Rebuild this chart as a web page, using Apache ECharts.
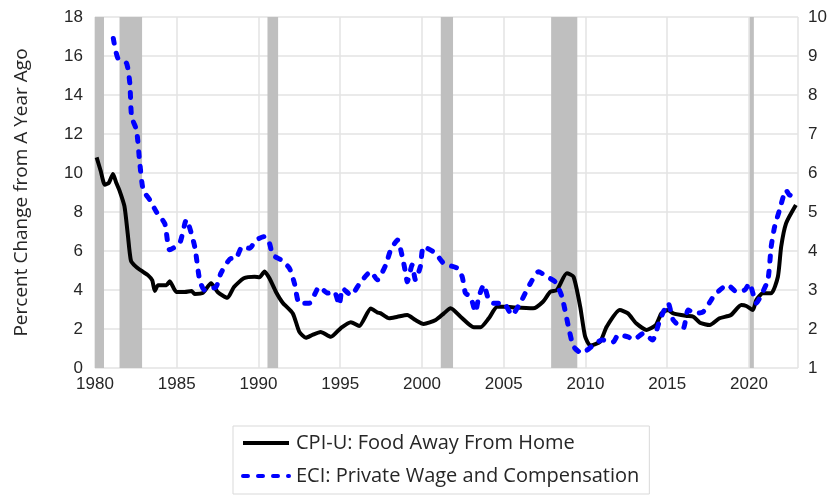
<!DOCTYPE html>
<html>
<head>
<meta charset="utf-8">
<script src="https://cdn.jsdelivr.net/npm/echarts@6/dist/echarts.min.js"></script>
<style>
  html, body { margin: 0; padding: 0; background: #fff; }
  #main { width: 832px; height: 498px; }
</style>
</head>
<body>
<div id="main"></div>
<script>
// CPI-U food away from home, % change from a year ago (left axis)
var cpiDates = [1980.1, 1980.35, 1980.6, 1980.85, 1981.1, 1981.3, 1981.5, 1981.8, 1982.0, 1982.2,
  1982.5, 1982.9, 1983.25, 1983.5, 1983.66, 1983.86, 1984.37, 1984.57, 1984.98, 1985.5,
  1985.9, 1986.1, 1986.6, 1987.1, 1987.5, 1988.1, 1988.5, 1989.1, 1989.76, 1990.06,
  1990.37, 1990.67, 1991.07, 1991.48, 1992.1, 1992.5, 1992.9, 1993.3, 1993.8, 1994.43,
  1995.04, 1995.65, 1996.16, 1996.87, 1997.27, 1997.48, 1997.99, 1998.5, 1999.1, 1999.6,
  2000.1, 2000.84, 2001.34, 2001.75, 2002.36, 2003.17, 2003.58, 2004.09, 2004.6, 2005.2,
  2005.7, 2006.8, 2007.4, 2007.85, 2008.25, 2008.86, 2009.27, 2009.68, 2009.98, 2010.3,
  2010.9, 2011.3, 2012.1, 2012.6, 2013.1, 2013.74, 2014.3, 2014.65, 2015.06, 2015.37,
  2016.18, 2016.6, 2017.0, 2017.6, 2018.2, 2018.9, 2019.53, 2019.84, 2020.24, 2020.45,
  2020.85, 2021.36, 2021.77, 2021.97, 2022.27, 2022.87];
var cpiValues = [10.8, 10.1, 9.4, 9.5, 9.95, 9.5, 9.1, 8.3, 6.9, 5.5,
  5.2, 4.95, 4.75, 4.5, 3.95, 4.25, 4.25, 4.45, 3.9, 3.9,
  3.95, 3.8, 3.85, 4.35, 3.9, 3.6, 4.15, 4.6, 4.68, 4.65,
  4.95, 4.6, 3.9, 3.35, 2.8, 1.85, 1.55, 1.7, 1.85, 1.6,
  2.05, 2.35, 2.15, 3.05, 2.85, 2.8, 2.55, 2.63, 2.72, 2.46,
  2.26, 2.46, 2.8, 3.06, 2.63, 2.09, 2.09, 2.55, 3.14, 3.14,
  3.1, 3.06, 3.4, 3.91, 4.0, 4.86, 4.68, 3.14, 1.61, 1.15,
  1.35, 2.12, 2.97, 2.8, 2.29, 1.95, 2.2, 2.8, 2.97, 2.8,
  2.67, 2.63, 2.32, 2.2, 2.55, 2.72, 3.23, 3.18, 2.97, 3.49,
  3.83, 3.83, 4.68, 6.22, 7.42, 8.36];

// ECI private wages and compensation, % change from a year ago (right axis)
var eciDates = [1981.12, 1981.4, 1981.93, 1982.13, 1982.24, 1982.54, 1982.74, 1982.95, 1983.35, 1983.76,
  1984.27, 1984.57, 1985.18, 1985.59, 1986.1, 1986.4, 1986.7, 1987.4, 1987.7, 1988.33,
  1988.6, 1989.0, 1989.45, 1989.86, 1990.37, 1990.67, 1990.87, 1991.38, 1991.89, 1992.2,
  1992.5, 1993.1, 1993.72, 1994.23, 1994.63, 1994.94, 1995.14, 1995.65, 1996.26, 1996.87,
  1997.27, 1997.78, 1998.09, 1998.5, 1998.8, 1999.0, 1999.1, 1999.4, 1999.6, 1999.9,
  2000.1, 2000.83, 2001.34, 2002.15, 2002.46, 2002.66, 2002.97, 2003.27, 2003.48, 2003.78,
  2004.09, 2004.4, 2005.0, 2005.5, 2006.1, 2006.63, 2007.13, 2007.64, 2008.15, 2008.56,
  2008.96, 2009.27, 2009.78, 2010.38, 2011.0, 2011.7, 2012.0, 2012.6, 2012.93, 2013.54,
  2014.1, 2014.55, 2015.06, 2015.37, 2015.98, 2016.28, 2016.7, 2017.2, 2017.9, 2018.7,
  2019.23, 2019.74, 2020.03, 2020.45, 2020.75, 2021.16, 2021.36, 2021.57, 2021.87, 2022.27,
  2022.47, 2022.87];
var eciValues = [9.45, 8.94, 8.81, 8.3, 7.44, 7.1, 6.25, 5.56, 5.31, 5.0,
  4.7, 4.03, 4.2, 4.8, 4.11, 3.26, 3.0, 3.08, 3.43, 3.81,
  3.8, 4.11, 4.07, 4.28, 4.37, 4.2, 3.9, 3.77, 3.56, 3.17,
  2.66, 2.66, 3.08, 2.92, 2.96, 2.62, 3.04, 2.87, 3.21, 3.47,
  3.26, 3.64, 4.03, 4.28, 3.85, 3.43, 3.21, 3.64, 3.26, 3.6,
  4.11, 3.94, 3.68, 3.56, 3.34, 2.92, 2.83, 2.44, 2.83, 3.13,
  2.74, 2.66, 2.66, 2.36, 2.74, 3.17, 3.47, 3.34, 3.21, 2.83,
  2.06, 1.55, 1.38, 1.55, 1.72, 1.67, 1.85, 1.8, 1.72, 1.89,
  1.72, 2.23, 2.66, 2.23, 2.02, 2.49, 2.4, 2.44, 2.87, 3.13,
  2.96, 3.0, 3.17, 2.66, 2.87, 3.26, 4.11, 4.62, 5.05, 5.56,
  5.44, 5.39];

// recessions (start, end)
var recessionStart = [1980.0, 1981.5, 1990.55, 2001.15, 2007.9, 2020.05];
var recessionEnd = [1980.55, 1982.88, 1991.2, 2001.9, 2009.5, 2020.3];

function pairs(xs, ys) {
  var out = []
  xs.forEach(function (x, i) {
    out.push([x, ys[i]])
  })
  return out
}

var recessionAreas = []
recessionStart.forEach(function (s, i) {
  recessionAreas.push([{ xAxis: s }, { xAxis: recessionEnd[i] }])
})

var textColor = '#262626'
var font = 'Liberation Sans'
var wideFont = 'Open Sans'

var chart = echarts.init(document.getElementById('main'), null, { renderer: 'canvas' })
chart.setOption({
  backgroundColor: '#ffffff',
  animation: false,
  grid: { left: 95, right: 34, top: 17, bottom: 130 },
  legend: {
    orient: 'vertical',
    left: 233,
    top: 426,
    padding: [7, 10, 8, 8],
    borderColor: '#d9d9d9',
    borderWidth: 1,
    itemWidth: 46,
    itemHeight: 14,
    itemGap: 13,
    itemStyle: { opacity: 0 },
    lineStyle: { width: 4 },
    textStyle: { color: textColor, fontSize: 20, fontFamily: wideFont, padding: [0, 0, 0, 2] },
    data: ['CPI-U: Food Away From Home', 'ECI: Private Wage and Compensation']
  },
  xAxis: {
    type: 'value',
    min: 1980,
    max: 2023,
    interval: 5,
    axisLine: { show: false },
    axisTick: { show: false },
    splitLine: { show: true, lineStyle: { color: '#e3e3e3', width: 1.5 } },
    axisLabel: {
      color: textColor, fontSize: 17, fontFamily: font, margin: 8,
      showMaxLabel: false,
      formatter: function (v) { return String(v) }
    }
  },
  yAxis: [
    {
      type: 'value',
      min: 0,
      max: 18,
      interval: 2,
      name: 'Percent Change from A Year Ago',
      nameLocation: 'middle',
      nameGap: 64,
      nameTextStyle: { color: textColor, fontSize: 19, fontFamily: wideFont },
      axisLine: { show: false },
      axisTick: { show: false },
      splitLine: { show: true, lineStyle: { color: '#e3e3e3', width: 1.5 } },
      axisLabel: { color: textColor, fontSize: 17, fontFamily: font, margin: 12 }
    },
    {
      type: 'value',
      min: 1,
      max: 10,
      interval: 1,
      position: 'right',
      axisLine: { show: false },
      axisTick: { show: false },
      splitLine: { show: false },
      axisLabel: { color: textColor, fontSize: 17, fontFamily: font, margin: 10 }
    }
  ],
  series: [
    {
      name: 'recession',
      type: 'line',
      data: [],
      z: 1,
      silent: true,
      markArea: {
        silent: true,
        itemStyle: { color: '#bfbfbf' },
        data: recessionAreas
      }
    },
    {
      name: 'CPI-U: Food Away From Home',
      type: 'line',
      yAxisIndex: 0,
      z: 3,
      symbol: 'none',
      smooth: 0.2,
      lineStyle: { color: '#000000', width: 4 },
      itemStyle: { color: '#000000' },
      data: pairs(cpiDates, cpiValues)
    },
    {
      name: 'ECI: Private Wage and Compensation',
      type: 'line',
      yAxisIndex: 1,
      z: 4,
      symbol: 'none',
      smooth: 0.2,
      lineStyle: { color: '#0000ff', width: 5, type: [5, 10], cap: 'round' },
      itemStyle: { color: '#0000ff' },
      data: pairs(eciDates, eciValues)
    }
  ]
})
</script>
</body>
</html>
